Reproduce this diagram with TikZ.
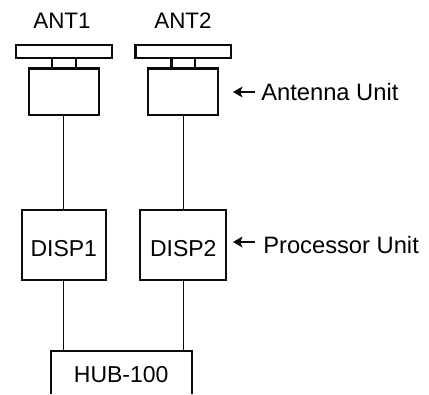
\documentclass[tikz,border=0pt]{standalone}
\usepackage{fontspec}
\setmainfont{Liberation Sans}
\usepackage{xcolor}
\usetikzlibrary{arrows.meta,positioning,calc}
\definecolor{clrK}{RGB}{10,10,10}
\tikzset{
  unit/.style={rectangle,draw=clrK,line width=1.6pt,inner sep=0pt,font=\fontsize{17.25}{20}\selectfont},
  dish/.style={unit,minimum width=71.7pt,minimum height=9.9pt},
  stub/.style={unit,minimum width=17.7pt,minimum height=7.2pt},
  antbox/.style={unit,minimum width=52.65pt,minimum height=34.9pt},
  disp/.style={unit,minimum width=62.7pt,minimum height=52.65pt,text height=16.9pt,text depth=0pt},
  hubtext/.style={rectangle,inner sep=0pt,outer sep=0pt,minimum width=105.75pt,minimum height=32.5pt,
    font=\fontsize{17.25}{20}\selectfont,text height=15.4pt,text depth=0pt},
  hubside/.style={draw=clrK,line width=1.6pt},
  wire/.style={draw=clrK,line width=0.9pt},
  pointer/.style={-{Stealth[length=7pt,width=8pt,inset=1.5pt]},draw=clrK,line width=1.8pt},
  antname/.style={font=\fontsize{16.8}{20}\selectfont,inner sep=0pt},
  sidelabel/.style={font=\fontsize{17.8}{20}\selectfont,anchor=west,inner sep=0pt}
}
\begin{document}
\begin{tikzpicture}[x=0.75pt,y=-0.75pt]
  \useasboundingbox (0,0) rectangle (429,394);
  % antennas
  \node[antname] (ant1) at (62,21) {ANT1};
  \node[antname] (ant2) at (183,21) {ANT2};
  \node[dish] (dish1) at (63.8,51.7) {};
  \node[dish] (dish2) at (183.3,51.7) {};
  \node[antbox] (box1) at (63.8,91.7) {};
  \node[antbox] (box2) at (183.3,91.7) {};
  \node[stub] (stub1) at (63.8,63.2) {};
  \node[stub] (stub2) at (183.3,63.2) {};
  % processors and hub
  \node[disp] (disp1) at (63.8,244.8) {DISP1};
  \node[disp,minimum width=64.4pt] (disp2) at (183.3,244.8) {DISP2};
  \node[hubtext] (hub) at (121.2,372.3) {HUB-100};
  \draw[hubside] (hub.south west) -- (hub.north west) -- (hub.north east) -- (hub.south east);
  % links
  \draw[wire] (box1.south) -- (disp1.north);
  \draw[wire] (box2.south) -- (disp2.north);
  \draw[wire] (disp1.south) -- (disp1.south |- hub.north);
  \draw[wire] (disp2.south) -- (disp2.south |- hub.north);
  % side labels
  \node[sidelabel] (antunit) at (261,92) {Antenna Unit};
  \node[sidelabel] (procunit) at (263,245) {Processor Unit};
  \coordinate (anttip) at (233,92);
  \coordinate (anttail) at (255,92);
  \coordinate (proctip) at (233,242);
  \coordinate (proctail) at (255,242);
  \draw[pointer] (anttail) -- (anttip);
  \draw[pointer] (proctail) -- (proctip);
\end{tikzpicture}
\end{document}
